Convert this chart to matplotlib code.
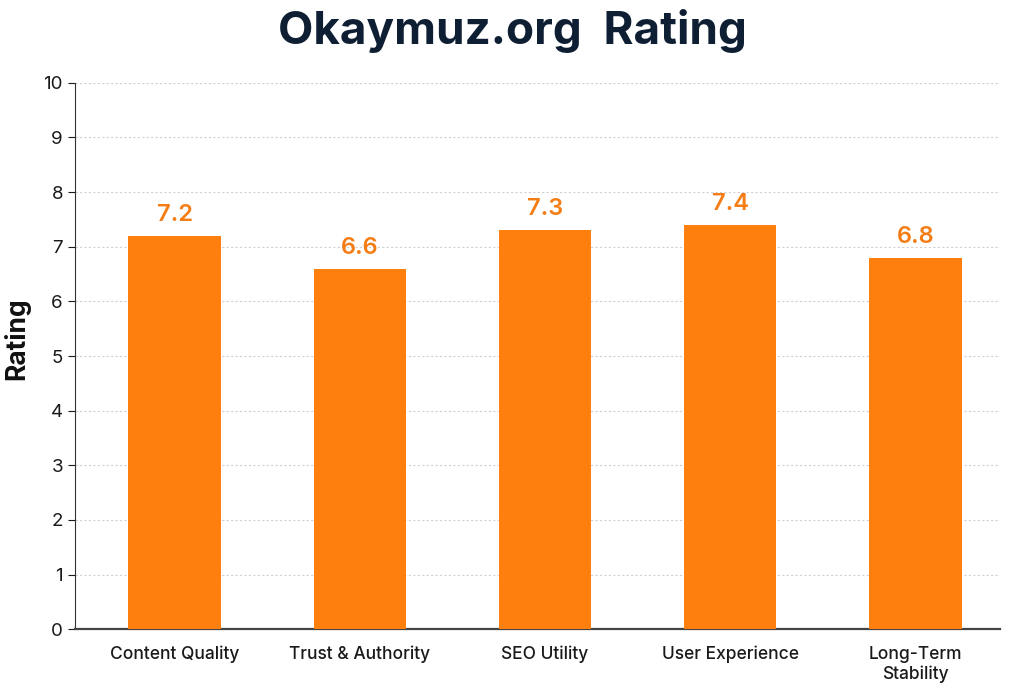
import matplotlib.pyplot as plt

categories = ["Content Quality", "Trust & Authority", "SEO Utility",
              "User Experience", "Long-Term\nStability"]
ratings = [7.2, 6.6, 7.3, 7.4, 6.8]

plt.rcParams['font.family'] = ['Inter', 'DejaVu Sans']

fig = plt.figure(figsize=(10.24, 6.84), dpi=100)
ax = fig.add_axes([0.073, 0.080, 0.904, 0.799])

x = range(len(categories))
ax.bar(x, ratings, width=0.5, color='#FF7F0E', zorder=3)
for xi, v in zip(x, ratings):
    ax.text(xi, v + 0.18, f"{v:.1f}", ha='center', va='bottom',
            fontsize=17, fontweight='semibold', color='#F57D16')

ax.set_xlim(-0.54, 4.46)
ax.set_ylim(0, 10)
ax.set_yticks(range(0, 11))
ax.set_xticks(list(x))
ax.set_xticklabels(categories, fontsize=12.5, fontweight='medium', color='#1a1a1a')
ax.tick_params(axis='y', labelsize=13.5, colors='#1a1a1a', length=5)
ax.tick_params(axis='x', length=0, pad=12)
ax.grid(axis='y', linestyle=(0, (2, 2)), color='#d0d0d0', linewidth=0.8, zorder=0)

for s in ['top', 'right']:
    ax.spines[s].set_visible(False)
ax.spines['left'].set_color('#333333')
ax.spines['bottom'].set_color('#444444')
ax.spines['bottom'].set_linewidth(1.6)

fig.text(0.5, 0.955, "Okaymuz.org  Rating", ha='center', va='center',
         fontsize=33, fontweight='bold', color='#0f1f33')
fig.text(0.003, 0.505, "Rating", rotation=90, ha='left', va='center',
         fontsize=19, fontweight='bold', color='#111111')

fig.savefig("out.png", dpi=100)
